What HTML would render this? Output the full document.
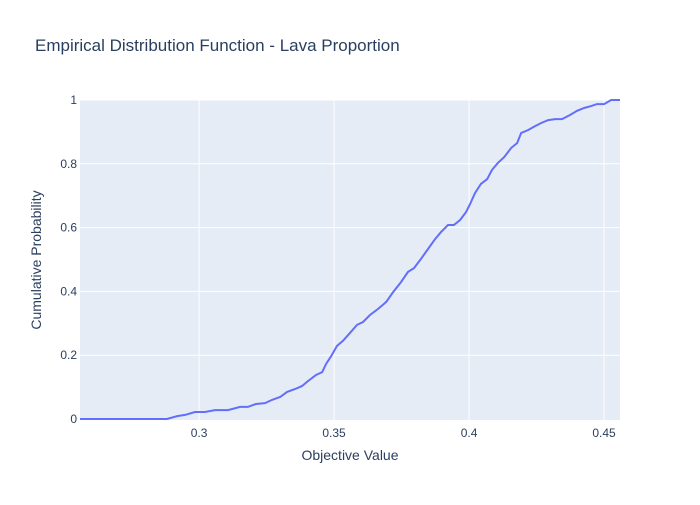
<!DOCTYPE html>
<html><head><meta charset="utf-8"><style>
body{margin:0;background:#fff;font-family:"Liberation Sans",sans-serif}
svg text{font-family:"Liberation Sans",sans-serif}
</style></head><body>
<svg id="chart" width="700" height="500">
<rect x="0" y="0" width="700" height="500" fill="#fff"/>
<text x="35" y="51" font-size="17" fill="#2a3f5f">Empirical Distribution Function - Lava Proportion</text>
<rect x="80" y="100" width="540" height="320" fill="#e5ecf6"/>
<g id="grid"></g>
<g id="ticks"></g>
<path id="line" fill="none" stroke="#636efa" stroke-width="2"/>
<text x="350" y="460" font-size="14" fill="#2a3f5f" text-anchor="middle">Objective Value</text>
<text x="41" y="260" font-size="14" fill="#2a3f5f" text-anchor="middle" transform="rotate(-90 41 260)">Cumulative Probability</text>
</svg>
<script>
const xValues=[0.2559,0.2881,0.2919,0.2948,0.2985,0.3022,0.3059,0.3107,0.3152,0.3181,0.3211,0.3244,0.3270,0.3300,0.3326,0.3356,0.3381,0.3404,0.3433,0.3456,0.3470,0.3489,0.3511,0.3533,0.3559,0.3585,0.3607,0.3633,0.3663,0.3693,0.3719,0.3748,0.3774,0.3796,0.3822,0.3848,0.3874,0.3896,0.3922,0.3944,0.3967,0.3989,0.4004,0.4022,0.4044,0.4067,0.4085,0.4107,0.4130,0.4156,0.4178,0.4193,0.4219,0.4244,0.4267,0.4293,0.4319,0.4344,0.4374,0.4400,0.4426,0.4452,0.4474,0.4500,0.4526,0.4559];
const yValues=[0,0,0.009,0.013,0.022,0.022,0.028,0.028,0.038,0.038,0.047,0.05,0.06,0.069,0.085,0.094,0.103,0.119,0.138,0.147,0.172,0.197,0.229,0.245,0.27,0.295,0.304,0.326,0.345,0.367,0.398,0.429,0.461,0.473,0.502,0.533,0.564,0.586,0.608,0.608,0.624,0.649,0.674,0.708,0.737,0.752,0.781,0.803,0.821,0.85,0.865,0.897,0.906,0.918,0.928,0.937,0.94,0.94,0.953,0.966,0.975,0.981,0.987,0.987,1,1];
const xTicks=[0.3,0.35,0.4,0.45];
const xTickLabels=["0.3","0.35","0.4","0.45"];
const yTicks=[0,0.2,0.4,0.6,0.8,1];
const yTickLabels=["0","0.2","0.4","0.6","0.8","1"];
const NS="http://www.w3.org/2000/svg";
const X0=0.2559,X1=0.4559,L=80,R=620,T=100,B=419;
function sx(v){return L+(v-X0)/(X1-X0)*(R-L);}
function sy(v){return B-v*(B-T);}
const grid=document.getElementById('grid'),ticks=document.getElementById('ticks');
xTicks.forEach((v,i)=>{
 const l=document.createElementNS(NS,'line');
 l.setAttribute('x1',sx(v));l.setAttribute('x2',sx(v));l.setAttribute('y1',T);l.setAttribute('y2',420);
 l.setAttribute('stroke','#fff');l.setAttribute('stroke-width','1');
 
 
 grid.appendChild(l);
 const t=document.createElementNS(NS,'text');
 t.setAttribute('x',sx(v));t.setAttribute('y',437);t.setAttribute('font-size','12');t.setAttribute('fill','#2a3f5f');t.setAttribute('text-anchor','middle');
 t.textContent=xTickLabels[i];
 
 
 ticks.appendChild(t);
});
yTicks.forEach((v,i)=>{
 if(v>0){const l=document.createElementNS(NS,'line');
 l.setAttribute('x1',L);l.setAttribute('x2',R);l.setAttribute('y1',sy(v));l.setAttribute('y2',sy(v));
 l.setAttribute('stroke','#fff');l.setAttribute('stroke-width','1');
 
 
 grid.appendChild(l);}
 const t=document.createElementNS(NS,'text');
 t.setAttribute('x',77);t.setAttribute('y',sy(v)+4);t.setAttribute('font-size','12');t.setAttribute('fill','#2a3f5f');t.setAttribute('text-anchor','end');
 t.textContent=yTickLabels[i];
 
 
 ticks.appendChild(t);
});
document.getElementById('line').setAttribute('d',xValues.map((x,i)=>(i?'L':'M')+sx(x).toFixed(1)+','+sy(yValues[i]).toFixed(1)).join(''));
</script>
</body></html>
